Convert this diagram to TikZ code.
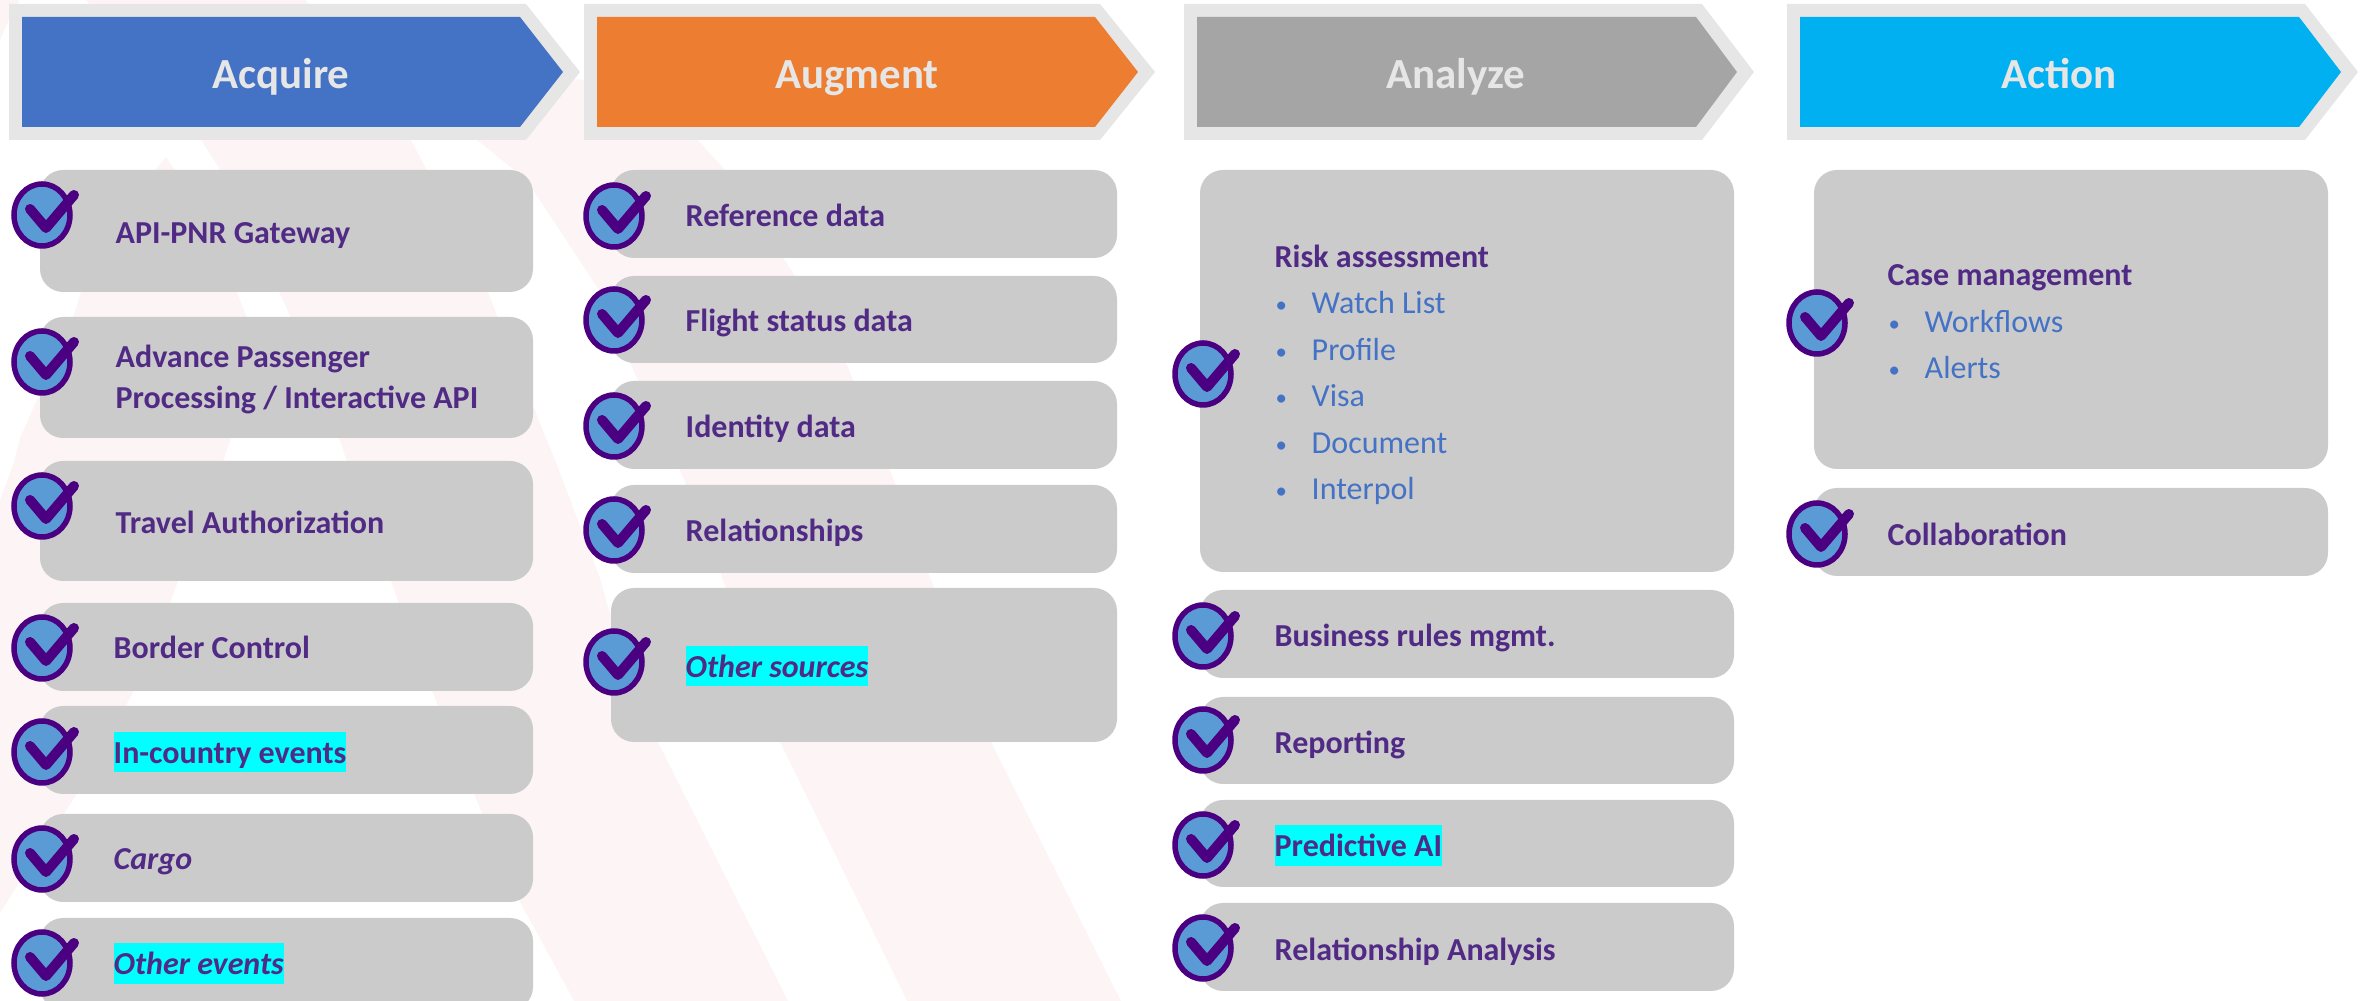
\documentclass[tikz,border=0pt]{standalone}
\usepackage{fontspec}
\setmainfont{Carlito}
\usepackage{xcolor}

\definecolor{bandpink}{HTML}{FDF5F5}
\definecolor{headback}{HTML}{E7E6E6}
\definecolor{headblue}{HTML}{4472C4}
\definecolor{headorange}{HTML}{ED7D31}
\definecolor{headgrey}{HTML}{A5A5A5}
\definecolor{headcyan}{HTML}{00B0F0}
\definecolor{boxgrey}{HTML}{CBCBCB}
\definecolor{itempurple}{HTML}{512A85}
\definecolor{markcyan}{HTML}{00FFFF}
\definecolor{tickpurple}{HTML}{4B0082}
\definecolor{tickblue}{HTML}{5B9BD5}

\newcommand{\listdot}{\makebox[0.36cm][l]{\raisebox{0.4pt}{\fontsize{6.5pt}{7pt}\selectfont •}}}

\tikzset{
    headtext/.style={anchor=base, inner sep=0pt, yshift=-0.015cm, text=headback, font=\fontsize{12.2pt}{14pt}\selectfont\bfseries},
    itembox/.style={fill=boxgrey, rounded corners=0.23cm},
    itemtext/.style={anchor=base west, inner sep=0pt, yshift=-0.015cm, align=left, text=itempurple, font=\fontsize{9.1pt}{11.6pt}\selectfont\bfseries},
    listtext/.style={anchor=base west, inner sep=0pt, yshift=-0.015cm, text=headblue, font=\fontsize{9.1pt}{11.6pt}\selectfont},
    marked/.style={fill=markcyan, text height=0.31cm, text depth=0.09cm},
    tick/.pic={
        \draw[tickpurple, fill=tickblue, line width=0.055cm] (0,0) ellipse [x radius=28, y radius=31];
        \draw[tickpurple, line width=0.1cm, line cap=round, line join=round] (-12,-6) -- (4,13) -- (32,-20);
    }
}

\begin{document}
\begin{tikzpicture}[x=0.01cm, y=-0.01cm]
    \useasboundingbox (0,0) rectangle (2369,1001);
    \clip (0,0) rectangle (2369,1001);

    % pale bands behind everything
    \fill[bandpink] (0,0) -- (20,0) -- (9,20) -- (0,40) -- cycle;
    \fill[bandpink] (166,157) -- (155,170) -- (81,292) -- (73,318) -- (20,438) -- (14,462) -- (0,500)
        -- (0,913) -- (77,794) -- (134,691) -- (170,604) -- (178,581) -- (223,462) -- (231,438)
        -- (250,375) -- (247,318) -- (237,292) -- (175,170) -- cycle;
    \fill[bandpink] (86,0) -- (201,140) -- (220,170) -- (279,292) -- (291,318) -- (339,438) -- (347,462)
        -- (391,581) -- (399,604) -- (432,691) -- (474,794) -- (520,902) -- (574,1001)
        -- (788,1001) -- (658,742) -- (607,604) -- (601,581) -- (556,462) -- (546,438)
        -- (498,318) -- (488,292) -- (427,170) -- (411,140) -- (306,0) -- cycle;
    \fill[bandpink] (440,100) -- (477,140) -- (514,170) -- (533,190) -- (597,287) -- (634,372) -- (683,477)
        -- (723,580) -- (780,742) -- (907,1001) -- (1121,1001) -- (991,742) -- (933,585) -- (893,478)
        -- (848,367) -- (790,268) -- (725,170) -- (698,140) -- (640,85) -- (560,78) -- cycle;

    % header arrows
    \fill[headback] (9,4) -- (526,4) -- (580,72) -- (526,140) -- (9,140) -- cycle;
    \fill[headblue] (22,17) -- (520,17) -- (563,72) -- (520,127) -- (22,127) -- cycle;
    \fill[headback] (584,4) -- (1100,4) -- (1155,72) -- (1100,140) -- (584,140) -- cycle;
    \fill[headorange] (597,17) -- (1095,17) -- (1138,72) -- (1095,127) -- (597,127) -- cycle;
    \fill[headback] (1184,4) -- (1702,4) -- (1754,72) -- (1702,140) -- (1184,140) -- cycle;
    \fill[headgrey] (1197,17) -- (1696,17) -- (1737,72) -- (1696,127) -- (1197,127) -- cycle;
    \fill[headback] (1787,4) -- (2305,4) -- (2358,72) -- (2305,140) -- (1787,140) -- cycle;
    \fill[headcyan] (1800,17) -- (2299,17) -- (2341,72) -- (2299,127) -- (1800,127) -- cycle;

    \node[headtext] (acquire) at (281,87) {Acquire};
    \node[headtext] (augment) at (857,87) {Augment};
    \node[headtext] (analyze) at (1456,87) {Analyze};
    \node[headtext] (action) at (2059,87) {Action};

    % first column
    \fill[itembox] (40,170) rectangle (533,292);
    \fill[itembox] (40,317) rectangle (533,438);
    \fill[itembox] (40,461) rectangle (533,581);
    \fill[itembox] (40,603) rectangle (533,691);
    \fill[itembox] (40,706) rectangle (533,794);
    \fill[itembox] (40,814) rectangle (533,902);
    \fill[itembox] (40,918) rectangle (533,1010);

    \pic at (42,215) {tick};
    \pic at (42,362) {tick};
    \pic at (42,506) {tick};
    \pic at (42,648) {tick};
    \pic at (42,752) {tick};
    \pic at (42,859) {tick};
    \pic at (42,963) {tick};

    \node[itemtext] (gateway) at (115,242) {API-PNR Gateway};
    \node[itemtext] (advance) at (115,407) {Advance Passenger\\Processing / Interactive API};
    \node[itemtext] (travel) at (115,532) {Travel Authorization};
    \node[itemtext] (border) at (113,657) {Border Control};
    \node[itemtext, marked] (incountry) at (113,762) {In-country events};
    \node[itemtext] (cargo) at (113,868) {\itshape Cargo};
    \node[itemtext, marked] (otherevents) at (113,973) {\itshape Other events};

    % second column
    \fill[itembox] (611,170) rectangle (1117,258);
    \fill[itembox] (611,276) rectangle (1117,363);
    \fill[itembox] (611,381) rectangle (1117,469);
    \fill[itembox] (611,485) rectangle (1117,573);
    \fill[itembox] (611,588) rectangle (1117,742);

    \pic at (614,216) {tick};
    \pic at (614,320) {tick};
    \pic at (614,426) {tick};
    \pic at (614,530) {tick};
    \pic at (614,662) {tick};

    \node[itemtext] (reference) at (685,225) {Reference data};
    \node[itemtext] (flight) at (685,330) {Flight status data};
    \node[itemtext] (identity) at (685,436) {Identity data};
    \node[itemtext] (relations) at (685,540) {Relationships};
    \node[itemtext, marked] (othersources) at (685,676) {\itshape Other sources};

    % third column
    \fill[itembox] (1200,170) rectangle (1734,572);
    \fill[itembox] (1200,590) rectangle (1734,678);
    \fill[itembox] (1200,697) rectangle (1734,784);
    \fill[itembox] (1200,800) rectangle (1734,887);
    \fill[itembox] (1200,903) rectangle (1734,991);

    \pic at (1203,374) {tick};
    \pic at (1203,636) {tick};
    \pic at (1203,740) {tick};
    \pic at (1203,845) {tick};
    \pic at (1203,948) {tick};

    \node[itemtext] (risk) at (1274,266) {Risk assessment};
    \node[listtext] (watch) at (1275,312) {\listdot Watch List};
    \node[listtext] (profile) at (1275,359) {\listdot Profile};
    \node[listtext] (visa) at (1275,405) {\listdot Visa};
    \node[listtext] (document) at (1275,452) {\listdot Document};
    \node[listtext] (interpol) at (1275,498) {\listdot Interpol};
    \node[itemtext] (business) at (1274,645) {Business rules mgmt.};
    \node[itemtext] (reporting) at (1274,752) {Reporting};
    \node[itemtext, marked] (predictive) at (1274,855) {Predictive AI};
    \node[itemtext] (analysis) at (1274,959) {Relationship Analysis};

    % fourth column
    \fill[itembox] (1814,170) rectangle (2328,469);
    \fill[itembox] (1814,488) rectangle (2328,576);

    \pic at (1817,323) {tick};
    \pic at (1817,534) {tick};

    \node[itemtext] (case) at (1887,284) {Case management};
    \node[listtext] (workflows) at (1888,331) {\listdot Workflows};
    \node[listtext] (alerts) at (1888,377) {\listdot Alerts};
    \node[itemtext] (collab) at (1887,544) {Collaboration};
\end{tikzpicture}
\end{document}
